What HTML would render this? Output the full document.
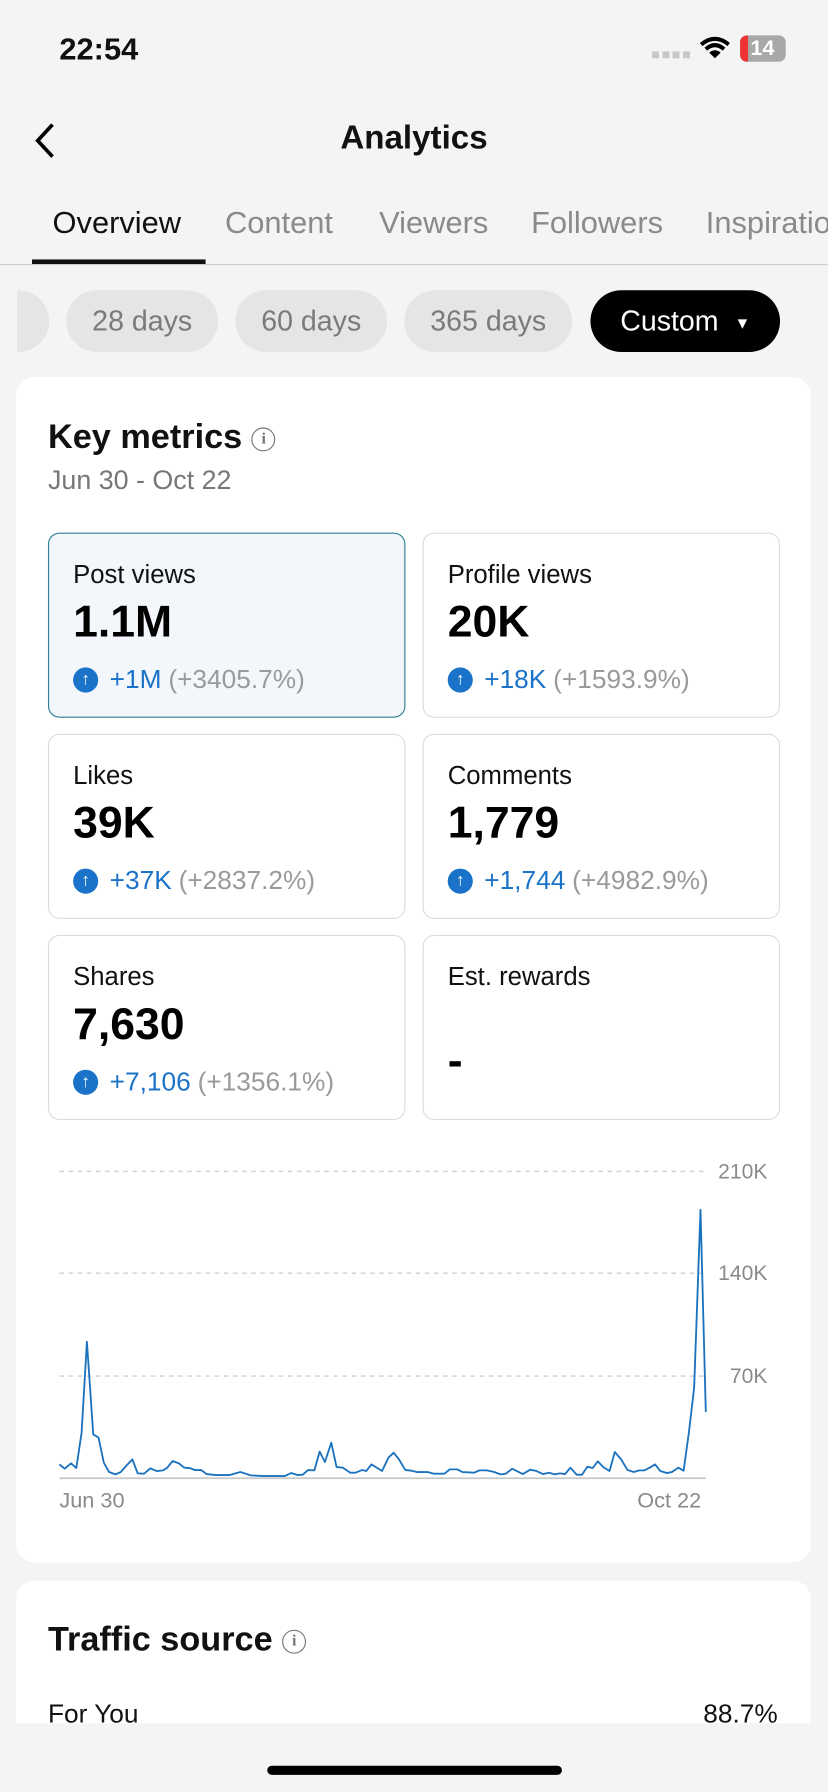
<!DOCTYPE html>
<html><head><meta charset="utf-8"><style>
html,body{margin:0;padding:0;background:#f4f4f4;overflow:hidden;width:828px;height:1792px}
#w{position:absolute;left:0;top:0;width:725px;height:1568px;transform:scale(1.14207,1.14286);transform-origin:0 0;font-family:"Liberation Sans",sans-serif;color:#111}
.a{position:absolute;white-space:nowrap}
.tab{position:absolute;top:180px;font-size:27px;color:#8a8a8a}
.pill{position:absolute;top:254px;height:54px;border-radius:27px;background:#e5e5e5;color:#7a7a7a;font-size:25px;line-height:54px;text-align:center}
.card{position:absolute;background:#fff;border-radius:16px}
.box{position:absolute;width:311px;height:160px;border:1px solid #dcdcdc;border-radius:10px;background:#fff}
.box .l{position:absolute;left:21px;top:23px;font-size:22.5px;color:#111}
.box .v{position:absolute;left:21px;top:56px;font-size:39px;font-weight:bold;color:#000}
.box .c{position:absolute;left:21px;top:114px;font-size:23px;color:#1a73c8;display:flex;align-items:center}
.box .c i{display:inline-block;width:22px;height:22px;border-radius:50%;background:#1a73c8;color:#fff;font-style:normal;font-size:15px;line-height:22px;text-align:center;margin-right:10px;font-weight:bold}
.box .c span{color:#9a9a9a;margin-left:6px}
.yl{position:absolute;right:53px;font-size:18.5px;color:#8a8a8a}
.info{display:inline-block;width:19px;height:19px;border:1.5px solid #777;border-radius:50%;font-size:14px;line-height:19px;text-align:center;color:#777;font-weight:bold;vertical-align:middle;font-family:"Liberation Serif",serif}
</style></head><body><div id="w">
<div class="a" style="left:52px;top:28px;font-size:27px;font-weight:bold">22:54</div>
<div class="a" style="left:571px;top:45px;width:34px;height:6px;background:repeating-linear-gradient(90deg,#c8c8c8 0 6px,transparent 6px 9px)"></div>
<svg class="a" style="left:612px;top:31px" width="28" height="22" viewBox="0 0 28 22"><path d="M2 8 Q14 -2 26 8" stroke="#000" stroke-width="3.5" fill="none"/><path d="M6 12 Q14 5 22 12" stroke="#000" stroke-width="3.5" fill="none"/><path d="M14 20 L9 15 Q14 11 19 15 Z" fill="#000"/></svg>
<div class="a" style="left:648px;top:31px;width:40px;height:23px;border-radius:6px;background:#a8a8a8;overflow:hidden"><div style="position:absolute;left:0;top:0;width:7px;height:23px;background:#e33"></div><div style="position:absolute;left:9px;top:1px;color:#fff;font-weight:bold;font-size:19px">14</div></div>
<svg class="a" style="left:28px;top:106px" width="22" height="34"><path d="M18 3 L5 17 L18 31" stroke="#000" stroke-width="3.2" fill="none"/></svg>
<div class="a" style="left:0;width:725px;text-align:center;top:105px;font-size:29px;font-weight:bold">Analytics</div>
<div class="tab" style="left:46px;color:#111">Overview</div>
<div class="tab" style="left:197px">Content</div>
<div class="tab" style="left:332px">Viewers</div>
<div class="tab" style="left:465px">Followers</div>
<div class="tab" style="left:618px;width:107px;overflow:hidden">Inspiration</div>
<div class="a" style="left:28px;top:227px;width:152px;height:4px;background:#111"></div>
<div class="a" style="left:0;top:231px;width:725px;height:1px;background:#d0d0d0"></div>
<div class="a" style="left:15px;top:240px;width:710px;height:80px;overflow:hidden">
<div class="pill" style="left:-100px;top:14px;width:128px;text-align:right">s&nbsp;&nbsp;&nbsp;&nbsp;&nbsp;&nbsp;</div>
</div>
<div class="pill" style="left:58px;width:133px">28 days</div>
<div class="pill" style="left:206px;width:133px">60 days</div>
<div class="pill" style="left:354px;width:147px">365 days</div>
<div class="pill" style="left:517px;width:166px;background:#000;color:#fff">Custom&nbsp;&nbsp;<span style="font-size:14px;vertical-align:middle">▼</span></div>

<div class="card" style="left:14px;top:330px;width:696px;height:1037px"></div>
<div class="a" style="left:42px;top:366px;font-size:30px;font-weight:bold">Key metrics <span class="info">i</span></div>
<div class="a" style="left:42px;top:407px;font-size:23.5px;color:#777">Jun 30 - Oct 22</div>

<div class="box" style="left:42px;top:466px;background:#f3f7fc;border-color:#2f7f94"><div class="l">Post views</div><div class="v">1.1M</div><div class="c"><i>↑</i>+1M<span>(+3405.7%)</span></div></div>
<div class="box" style="left:370px;top:466px"><div class="l">Profile views</div><div class="v">20K</div><div class="c"><i>↑</i>+18K<span>(+1593.9%)</span></div></div>
<div class="box" style="left:42px;top:642px"><div class="l">Likes</div><div class="v">39K</div><div class="c"><i>↑</i>+37K<span>(+2837.2%)</span></div></div>
<div class="box" style="left:370px;top:642px"><div class="l">Comments</div><div class="v">1,779</div><div class="c"><i>↑</i>+1,744<span>(+4982.9%)</span></div></div>
<div class="box" style="left:42px;top:818px"><div class="l">Shares</div><div class="v">7,630</div><div class="c"><i>↑</i>+7,106<span>(+1356.1%)</span></div></div>
<div class="box" style="left:370px;top:818px"><div class="l">Est. rewards</div><div class="v" style="top:88px">-</div></div>

<svg class="a" style="left:0;top:0" width="725" height="1400">
<g stroke="#cfcfcf" stroke-width="1.2" stroke-dasharray="4 4"><line x1="52" x2="618" y1="1025" y2="1025"/><line x1="52" x2="618" y1="1114" y2="1114"/><line x1="52" x2="618" y1="1204" y2="1204"/></g>
<line x1="52" x2="618" y1="1293.5" y2="1293.5" stroke="#c8c8c8" stroke-width="1.5"/>
</svg>
<svg class="a" style="left:52px;top:1025px;overflow:visible" width="566" height="268" viewBox="114 98 1222 917" preserveAspectRatio="none">
<polyline vector-effect="non-scaling-stroke" fill="none" stroke="#1b72bf" stroke-width="1.6" stroke-linejoin="round" points="114,975 124,988 136,972 146,986 156,880 166,608 178,885 188,895 198,970 208,998 220,1005 230,998 240,980 252,960 262,1002 274,1003 286,987 298,995 310,993 318,985 328,965 340,972 350,985 360,986 370,992 382,992 392,1004 410,1007 436,1007 456,998 476,1008 500,1010 540,1010 552,1001 564,1007 574,1006 584,992 596,993 606,937 616,968 628,910 638,983 650,985 664,1000 674,1000 686,992 694,995 704,975 724,995 736,955 746,940 756,960 768,992 780,994 790,998 810,998 822,1003 842,1003 852,990 866,990 876,998 898,1000 908,993 922,993 936,998 948,1005 958,1003 970,988 990,1004 1004,991 1016,995 1028,1004 1040,1000 1050,1005 1060,1002 1070,1004 1080,985 1092,1006 1102,1006 1112,982 1122,986 1132,966 1142,983 1154,995 1164,938 1176,960 1188,992 1200,998 1210,993 1220,993 1230,985 1240,975 1250,995 1262,1001 1272,998 1284,985 1294,994 1304,880 1314,745 1326,213 1336,818"/>
</svg>
<div class="yl" style="top:1014px">210K</div>
<div class="yl" style="top:1103px">140K</div>
<div class="yl" style="top:1193px">70K</div>
<div class="a" style="left:52px;top:1303px;font-size:19px;color:#8a8a8a">Jun 30</div>
<div class="a" style="left:558px;top:1303px;font-size:19px;color:#8a8a8a">Oct 22</div>

<div class="card" style="left:14px;top:1383px;width:696px;height:125px;border-radius:16px 16px 0 0"></div>
<div class="a" style="left:42px;top:1418px;font-size:30px;font-weight:bold">Traffic source <span class="info">i</span></div>
<div class="a" style="left:42px;top:1486px;font-size:23px">For You</div>
<div class="a" style="right:44px;top:1486px;font-size:23px">88.7%</div>
<div class="a" style="left:0;top:1508px;width:725px;height:60px;background:#f4f4f4"></div>
<div class="a" style="left:234px;top:1545px;width:258px;height:8px;border-radius:4px;background:#000"></div>
</div></body></html>
